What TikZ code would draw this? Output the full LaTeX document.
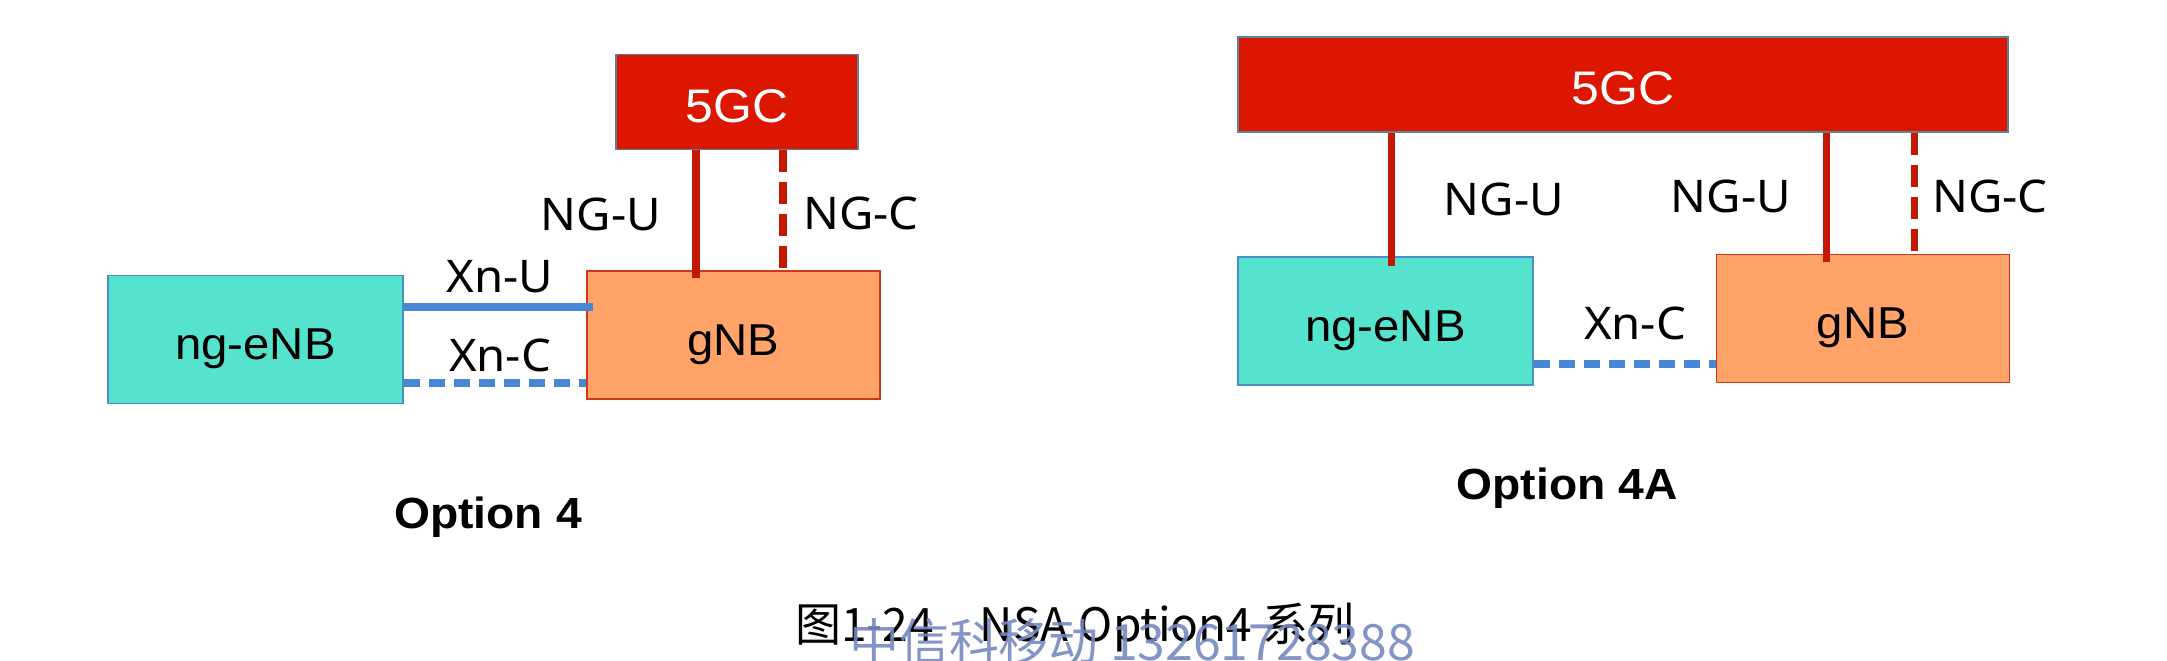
\documentclass[tikz,border=0pt]{standalone}
\usepackage{fontspec}
\setmainfont{Liberation Sans}[FakeStretch=1.06]
\newfontfamily\lblfont{Noto Sans}[FakeStretch=1.05]
\newfontfamily\cjk{Noto Sans CJK SC}
\usepackage{tikz}
\definecolor{coreRed}{RGB}{221,22,0}
\definecolor{coreEdge}{RGB}{92,130,150}
\definecolor{lineRed}{RGB}{196,24,4}
\definecolor{enbCyan}{RGB}{86,227,205}
\definecolor{enbEdge}{RGB}{74,144,200}
\definecolor{gnbOrange}{RGB}{255,163,104}
\definecolor{gnbEdge}{RGB}{204,58,28}
\definecolor{xnBlue}{RGB}{72,134,214}
\definecolor{markBlue}{RGB}{118,136,192}
\tikzset{
	box/.style={draw, line width=.5pt, minimum width=#1, minimum height=1.28cm, inner sep=0pt, text height=11.4pt, text depth=0pt, font=\fontsize{12.7}{14}\selectfont},
	core/.style={box=#1, fill=coreRed, draw=coreEdge, minimum height=.95cm, text=white, font=\fontsize{13.4}{15}\selectfont},
	enb/.style={box=2.95cm, fill=enbCyan, draw=enbEdge},
	gnb/.style={box=2.93cm, fill=gnbOrange, draw=gnbEdge},
	ng/.style={draw=lineRed, line width=2pt},
	ngc/.style={ng, dash pattern=on .22cm off .1cm},
	xn/.style={draw=xnBlue, line width=2pt},
	xnc/.style={xn, dash pattern=on .16cm off .09cm},
	iface/.style={font=\lblfont\fontsize{12.8}{14}\selectfont},
	option/.style={font=\bfseries\fontsize{12.4}{14}\selectfont}
}

\begin{document}
\begin{tikzpicture}[x=.01cm, y=-.01cm]
	\useasboundingbox (0, 0) rectangle (2167, 660);
	% Option 4
	\node[core=2.42cm] (core1) at (737, 102) {5GC};
	\node[enb] (enb1) at (255.5, 339.5) {ng-eNB};
	\node[gnb] (gnb1) at (733.5, 335) {gNB};
	\draw[ng] (696,0 |- core1.south) -- ([yshift=-.08cm]696,0 |- gnb1.north);
	\draw[ngc] (783,0 |- core1.south) -- (783,0 |- gnb1.north);
	\draw[xn] (enb1.east |- 0,307) -- ([xshift=.07cm]gnb1.west |- 0,307);
	\draw[xnc] (enb1.east |- 0,383) -- (gnb1.west |- 0,383);
	\node[iface] (ngu1) at (601, 214) {NG-U};
	\node[iface] (ngc1) at (861, 213) {NG-C};
	\node[iface] (xnu1) at (500, 277) {Xn-U};
	\node[iface] (xnc1) at (500, 355) {Xn-C};
	\node[option] (opt1) at (488, 517) {Option 4};
	% Option 4A
	\node[core=7.7cm] (core2) at (1623, 84.5) {5GC};
	\node[enb] (enb2) at (1385.5, 321) {ng-eNB};
	\node[gnb] (gnb2) at (1863, 318.5) {gNB};
	\draw[ng] (1391,0 |- core2.south) -- ([yshift=-.1cm]1391,0 |- enb2.north);
	\draw[ng] (1826,0 |- core2.south) -- ([yshift=-.08cm]1826,0 |- gnb2.north);
	\draw[ngc] (1914,0 |- core2.south) -- (1914,0 |- gnb2.north);
	\draw[xnc] (enb2.east |- 0,364) -- (gnb2.west |- 0,364);
	\node[iface] (ngu2) at (1504, 199) {NG-U};
	\node[iface] (ngu3) at (1731, 196) {NG-U};
	\node[iface] (ngc2) at (1990, 196) {NG-C};
	\node[iface] (xnc2) at (1635, 323) {Xn-C};
	\node[option] (opt2) at (1567, 488) {Option 4A};
	% caption
	\node[font=\cjk\fontsize{13.1}{15}\selectfont] (cap) at (1075, 628) {图1-24\quad NSA Option4 系列};
	\node[font=\cjk\fontsize{14.2}{16}\selectfont, text=markBlue, opacity=.9] (mark) at (1132, 642) {中信科移动 13261728388};
\end{tikzpicture}
\end{document}
